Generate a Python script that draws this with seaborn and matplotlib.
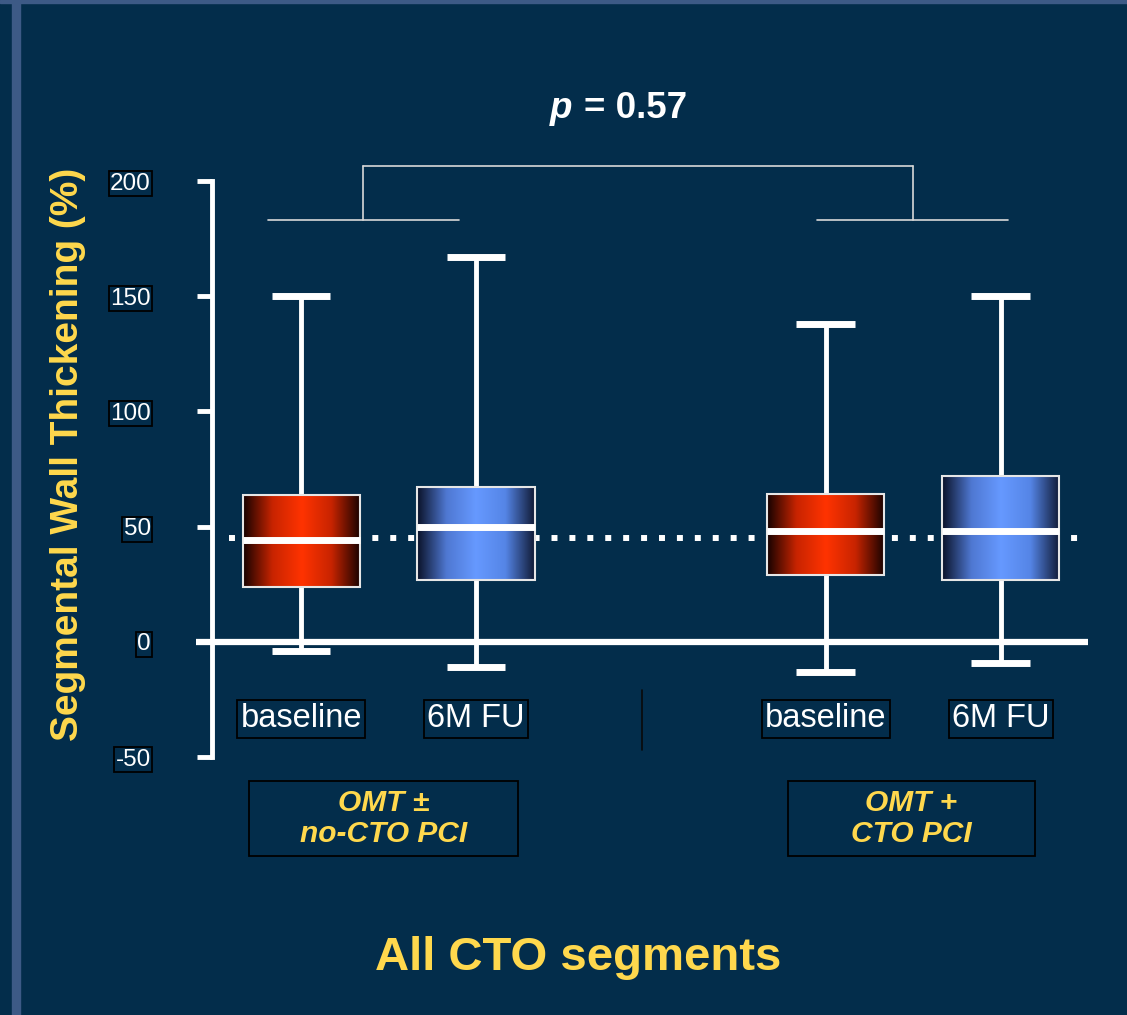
import numpy as np
import pandas as pd
import matplotlib.pyplot as plt
import seaborn as sns
from matplotlib.colors import LinearSegmentedColormap
from matplotlib.patches import Rectangle

# box summaries (min, Q1, median, Q3, max), in %
positions = [0, 1, 3, 4]
kinds = ["baseline", "6M FU", "baseline", "6M FU"]
box_min = [-4, -11, -13, -9]
box_q1 = [24, 27, 29, 27]
box_med = [44, 50, 48, 48]
box_q3 = [63.5, 67, 64, 72]
box_max = [150, 167, 138, 150]

ref_line = 45
yticks = [-50, 0, 50, 100, 150, 200]
groups = ["OMT \u00b1\nno-CTO PCI", "OMT +\nCTO PCI"]
group_centers = [0.47, 3.49]
group_widths = [1.54, 1.41]
bracket_left = [-0.19, 2.95]
bracket_right = [0.90, 4.04]
bracket_mid = [0.355, 3.5]
bracket_low, bracket_top = 183, 206.5
p_value = "= 0.57"

bg = "#032d4b"
yellow = "#ffd84d"

sns.set_theme(style="ticks")
plt.rcParams["font.family"] = ["Liberation Sans", "DejaVu Sans"]

vals = np.column_stack([box_min, box_q1, box_med, box_q3, box_max])
df = pd.DataFrame({"pos": np.repeat(positions, 5), "value": vals.ravel()})

fig = plt.figure(figsize=(11.27, 10.15), dpi=100)
fig.patch.set_facecolor(bg)
ax = fig.add_axes([212 / 1127, 1 - 757 / 1015, 876 / 1127, 576 / 1015])
ax.set_facecolor("none")

sns.boxplot(data=df, x="pos", y="value", native_scale=True, whis=(0, 100),
            width=0.67, showfliers=False, color="white", linecolor="white",
            linewidth=3.5,
            boxprops=dict(facecolor="none", edgecolor="#e6e6e6", linewidth=1.5),
            medianprops=dict(color="white", linewidth=5, zorder=3,
                             solid_capstyle="butt"),
            whiskerprops=dict(color="white", linewidth=3.5, solid_capstyle="butt"),
            capprops=dict(color="white", linewidth=5, solid_capstyle="butt"),
            ax=ax)

# gradient fill inside each box
cmaps = {
    "baseline": LinearSegmentedColormap.from_list(
        "redgrad", ["#160200", "#c82400", "#ff3300", "#c82400", "#160200"]),
    "6M FU": LinearSegmentedColormap.from_list(
        "bluegrad", ["#0a1228", "#4f78d2", "#6699ff", "#5585e6", "#101a35"]),
}
grad = np.linspace(0, 1, 256)[None, :]
boxes = sorted(ax.patches, key=lambda p: p.get_path().get_extents().x0)
for patch, kind in zip(boxes, kinds):
    ext = patch.get_path().get_extents()
    patch.set_facecolor("none")
    patch.set_edgecolor("#e6e6e6")
    patch.set_linewidth(1.5)
    patch.set_zorder(2.2)
    im = ax.imshow(grad, cmap=cmaps[kind], extent=[ext.x0, ext.x1, ext.y0, ext.y1],
                   aspect="auto", zorder=2.1, interpolation="bilinear")
    im.set_clip_path(patch)

ax.set_xlim(-0.51, 4.5)
ax.set_ylim(-50, 200)

# zero line and dotted reference line
ax.plot([-0.6, 4.5], [0, 0], color="white", lw=4.5, solid_capstyle="butt",
        clip_on=False, zorder=2.5)
ax.plot([-0.41, 4.5], [ref_line, ref_line], color="white", lw=4.3,
        linestyle=(0, (1, 2)), dash_capstyle="butt", clip_on=False, zorder=1.5)

# significance brackets
lc = "#d8d8d8"
for l, r, m in zip(bracket_left, bracket_right, bracket_mid):
    ax.plot([l, r], [bracket_low, bracket_low], color=lc, lw=1.2, clip_on=False)
    ax.plot([m, m], [bracket_low, bracket_top], color=lc, lw=1.2, clip_on=False)
ax.plot([bracket_mid[0], bracket_mid[1]], [bracket_top, bracket_top], color=lc,
        lw=1.2, clip_on=False)

# axes styling
for s in ["top", "right", "bottom"]:
    ax.spines[s].set_visible(False)
ax.spines["left"].set_color("white")
ax.spines["left"].set_linewidth(3.5)
ax.set_xticks([])
ax.set_xlabel("")
ax.set_yticks(yticks)
ax.set_yticklabels([str(t) for t in yticks])
ax.tick_params(axis="y", direction="out", length=11, width=3.5, color="white",
               labelcolor="white", labelsize=17.5, pad=33)
for lbl in ax.get_yticklabels():
    lbl.set_bbox(dict(boxstyle="square,pad=0.06", fc=bg, ec="black", lw=1.3))

ax.set_ylabel("Segmental Wall Thickening (%)", fontsize=28, fontweight="bold",
              color=yellow)
ax.yaxis.set_label_coords(-0.144, 0.525)

# category labels
for pos, kind in zip(positions, kinds):
    ax.text(pos, -33.5, kind, ha="center", va="center", fontsize=23.5, color="white",
            bbox=dict(boxstyle="square,pad=0.1", fc=bg, ec="black", lw=1.3),
            clip_on=False)
ax.plot([1.95, 1.95], [-21, -47], color="#0a0a0a", lw=1.2, clip_on=False)

# group labels
for cx, w, txt in zip(group_centers, group_widths, groups):
    ax.add_patch(Rectangle((cx - w / 2, -93), w, 32.6, fc="none", ec="black",
                           lw=1.3, clip_on=False))
    ax.text(cx, -76.7, txt, ha="center", va="center", fontsize=21.5,
            fontweight="bold", style="italic", color=yellow, linespacing=1.15,
            clip_on=False)

# p value and title
fig.text(572 / 1127, 1 - 108 / 1015, "p", ha="right", va="center", fontsize=26.5,
         fontweight="bold", style="italic", color="white")
fig.text(584 / 1127, 1 - 108 / 1015, p_value, ha="left", va="center", fontsize=26.5,
         fontweight="bold", color="white")
fig.text(578 / 1127, 1 - 958 / 1015, "All CTO segments", ha="center", va="center",
         fontsize=34, fontweight="bold", color=yellow)

# slide frame strips
fig.add_artist(Rectangle((12 / 1127, 0), 8 / 1127, 1, transform=fig.transFigure,
                         color="#3d5a86", zorder=0))
fig.add_artist(Rectangle((0, 1 - 3 / 1015), 1, 3 / 1015, transform=fig.transFigure,
                         color="#3d5a86", zorder=0))

fig.savefig("out.png", dpi=100, facecolor=bg)
